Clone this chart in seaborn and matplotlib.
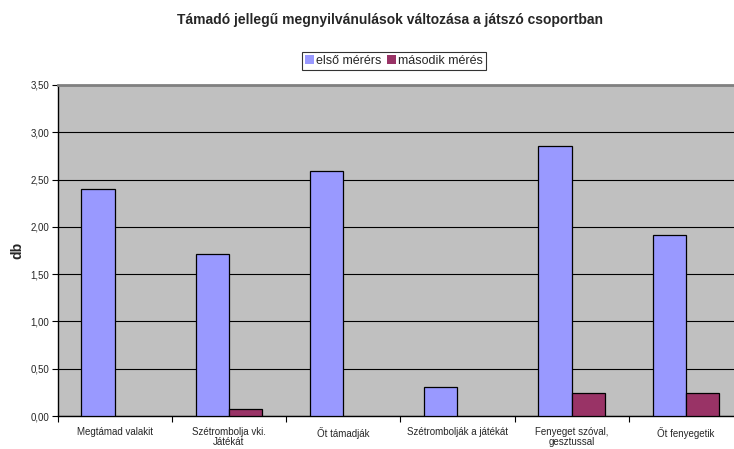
import pandas as pd
import matplotlib.pyplot as plt
import matplotlib.ticker as mticker
import seaborn as sns

# --- Adatok ---
categories = [
    'Megtámad valakit',
    'Szétrombolja vki.\nJátékát',
    'Őt támadják',
    'Szétrombolják a játékát',
    'Fenyeget szóval,\ngesztussal',
    'Őt fenyegetik',
]
first_values = [2.40, 1.71, 2.59, 0.31, 2.86, 1.91]
second_values = [0.00, 0.07, 0.00, 0.00, 0.24, 0.24]
series_names = ['első mérérs', 'második mérés']
y_ticks = [0.0, 0.5, 1.0, 1.5, 2.0, 2.5, 3.0, 3.5]

df = pd.DataFrame({
    'kategoria': categories * 2,
    'meres': [series_names[0]] * len(categories) + [series_names[1]] * len(categories),
    'db': first_values + second_values,
})

sns.set_style("white")
plt.rcParams['font.family'] = ['Liberation Sans', 'DejaVu Sans']

fig = plt.figure(figsize=(7.34, 4.49), dpi=100)
ax = fig.add_axes([57.5 / 734, 33 / 449, 685.5 / 734, 331 / 449])
ax.set_facecolor('#C0C0C0')

sns.barplot(
    data=df, x='kategoria', y='db', hue='meres',
    palette=['#9999FF', '#993366'], saturation=1, width=0.58, gap=0,
    edgecolor='black', linewidth=0.9, ax=ax, zorder=3,
)

# nulla magasságú oszlopoknak ne legyen kerete
for p in ax.patches:
    if p.get_height() == 0:
        p.set_linewidth(0)

ax.set_xlim(-0.5, len(categories) - 0.5)
ax.set_ylim(0, 3.5)
ax.set_yticks(y_ticks)
ax.yaxis.set_major_formatter(mticker.FuncFormatter(lambda v, p: f'{v:.2f}'.replace('.', ',')))
ax.yaxis.grid(True, color='black', linewidth=0.8, zorder=0)
ax.set_axisbelow(True)

# x tengely: felirat a közepén, osztás a csoportok határán
ax.set_xticks(range(len(categories)))
ax.set_xticks([i + 0.5 for i in range(-1, len(categories))], minor=True)
ax.tick_params(axis='x', which='major', length=0, labelsize=7, pad=8)
ax.tick_params(axis='x', which='minor', length=4, width=0.8, color='black', direction='out', bottom=True)
ax.tick_params(axis='y', length=4, width=0.8, color='black', direction='out', left=True, labelsize=7, pad=2)

for lbl in ax.get_xticklabels():
    lbl.set_linespacing(1.0)

for side in ['left', 'bottom']:
    ax.spines[side].set_color('black')
    ax.spines[side].set_linewidth(1.0)
ax.spines['top'].set_color('#808080')
ax.spines['top'].set_linewidth(2.0)
ax.spines['right'].set_visible(False)

ax.set_xlabel('')
ax.set_ylabel('db', fontsize=10, fontweight='bold', labelpad=4)

fig.text(0.532, 0.955, 'Támadó jellegű megnyilvánulások változása a játszó csoportban',
         ha='center', va='center', fontsize=10, fontweight='bold')

leg = ax.legend(loc='center', bbox_to_anchor=(394 / 734, 1 - 61 / 449),
                bbox_transform=fig.transFigure, ncol=2, fontsize=9,
                frameon=True, fancybox=False, handlelength=0.7, handleheight=0.7,
                handletextpad=0.2, columnspacing=0.4, borderpad=0.25,
                borderaxespad=0)
leg.get_frame().set_edgecolor('black')
leg.get_frame().set_linewidth(0.8)
leg.set_title(None)

fig.savefig('out.png', dpi=100)
